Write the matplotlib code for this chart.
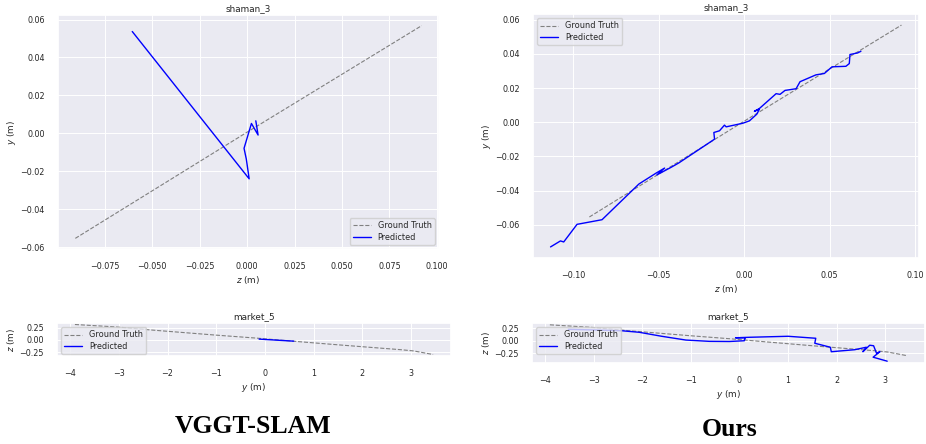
import numpy as np
import matplotlib
matplotlib.use('Agg')
import matplotlib.pyplot as plt
import seaborn as sns

# ground truth (shared by both methods)
gt_sham_z = [-0.0905, 0.0, 0.0920]
gt_sham_y = [-0.0554, 0.0006, 0.0568]

gt_mkt_y = [-3.90, -3.06, -2.38, -1.00, -0.19, 0.59, 1.50, 2.20, 2.78, 3.05, 3.45]
gt_mkt_z = [0.32, 0.27, 0.21, 0.10, 0.04, -0.026, -0.10, -0.155, -0.20, -0.226, -0.30]

# VGGT-SLAM predictions
vg_sham_z = [-0.0605, 0.0011, -0.0004, -0.0016, 0.0023, 0.0058, 0.0046]
vg_sham_y = [0.0537, -0.0240, -0.0136, -0.0079, 0.0052, -0.0009, 0.0066]

vg_mkt_y = [-0.12, 0.10, 0.35, 0.59]
vg_mkt_z = [0.018, 0.005, -0.01, -0.024]

# Ours predictions
our_sham_z = [-0.1132, -0.1074, -0.1055, -0.0977, -0.0831, -0.0615, -0.0514, -0.0465,
              -0.0510, -0.0426, -0.0382, -0.0173, -0.0177, -0.0144, -0.0115, -0.0105,
              -0.0008, 0.0031, 0.0074, 0.0089, 0.0060, 0.0089, 0.0187, 0.0210,
              0.0239, 0.0304, 0.0327, 0.0420, 0.0469, 0.0514, 0.0595, 0.0615,
              0.0619, 0.0663, 0.0683]
our_sham_y = [-0.0729, -0.0694, -0.0700, -0.0597, -0.0570, -0.0361, -0.0297, -0.0268,
              -0.0308, -0.0263, -0.0238, -0.0099, -0.0060, -0.0050, -0.0017, -0.0027,
              -0.0006, 0.0008, 0.0047, 0.0076, 0.0064, 0.0080, 0.0167, 0.0163,
              0.0186, 0.0196, 0.0237, 0.0277, 0.0285, 0.0324, 0.0327, 0.0343,
              0.0396, 0.0405, 0.0415]

our_mkt_y = [-3.52, -2.75, -2.41, -2.06, -1.60, -1.10, -0.62, -0.21, 0.10, 0.12, -0.08,
             0.21, 1.00, 1.57, 1.55, 1.87, 1.89, 2.37, 2.61, 2.54, 2.68, 2.76, 2.82,
             2.89, 2.75, 3.04]
our_mkt_z = [0.23, 0.21, 0.20, 0.17, 0.09, 0.014, -0.012, -0.015, 0.0, 0.06, 0.06,
             0.07, 0.09, 0.05, -0.05, -0.13, -0.22, -0.18, -0.13, -0.22, -0.09, -0.10, -0.25,
             -0.22, -0.33, -0.41]

sns.set_theme(style='darkgrid')
plt.rcParams['font.family'] = ['DejaVu Sans']
plt.rcParams['xtick.labelsize'] = 5.8
plt.rcParams['ytick.labelsize'] = 5.8
plt.rcParams['xtick.major.pad'] = 3.5
plt.rcParams['ytick.major.pad'] = 3.5
plt.rcParams['axes.labelsize'] = 6.4
plt.rcParams['axes.titlesize'] = 6.4
plt.rcParams['axes.titlepad'] = 3
plt.rcParams['axes.labelpad'] = 2
plt.rcParams['legend.fontsize'] = 5.9
plt.rcParams['grid.linewidth'] = 0.7

W, H = 926, 444
fig = plt.figure(figsize=(W / 100, H / 100), dpi=100)


def box(l, r, t, b):
    return [l / W, (H - b) / H, (r - l) / W, (b - t) / H]


def panel(rect, gx, gy, px, py, title, xl, yl, loc):
    ax = fig.add_axes(rect)
    ax.plot(gx, gy, '--', color='gray', lw=0.8, label='Ground Truth')
    ax.plot(px, py, '-', color='blue', lw=1.0, label='Predicted')
    ax.set_title(title)
    ax.set_xlabel(xl)
    ax.set_ylabel(yl)
    ax.legend(loc=loc, handlelength=2.2, borderpad=0.4, labelspacing=0.3)
    return ax


ax1 = panel(box(58, 439, 15, 249), gt_sham_z, gt_sham_y, vg_sham_z, vg_sham_y,
            'shaman_3', r'$z$ (m)', r'$y$ (m)', 'lower right')
ax1.set_xticks([-0.075, -0.05, -0.025, 0, 0.025, 0.05, 0.075, 0.1])

ax2 = panel(box(533, 919, 14, 258), gt_sham_z, gt_sham_y, our_sham_z, our_sham_y,
            'shaman_3', r'$z$ (m)', r'$y$ (m)', 'upper left')

ax3 = panel(box(57, 451, 323, 356), gt_mkt_y, gt_mkt_z, vg_mkt_y, vg_mkt_z,
            'market_5', r'$y$ (m)', r'$z$ (m)', 'upper left')
ax3.set_yticks([-0.25, 0, 0.25])

ax4 = panel(box(532, 925, 323, 363), gt_mkt_y, gt_mkt_z, our_mkt_y, our_mkt_z,
            'market_5', r'$y$ (m)', r'$z$ (m)', 'upper left')
ax4.set_yticks([-0.25, 0, 0.25])

fig.text(253 / W, (H - 433) / H, 'VGGT-SLAM', ha='center', va='baseline', color='black',
         fontsize=18.5, fontweight='bold', family='Liberation Serif')
fig.text(730 / W, (H - 436) / H, 'Ours', ha='center', va='baseline', color='black',
         fontsize=18.5, fontweight='bold', family='Liberation Serif')

fig.savefig('out.png', dpi=100)
